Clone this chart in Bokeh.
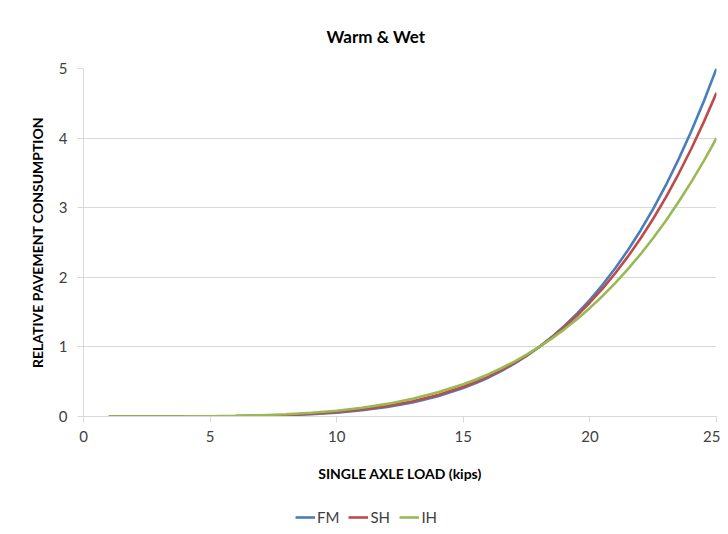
from bokeh.plotting import figure
from bokeh.layouts import column
from bokeh.models import Legend, LegendItem, Range1d, FixedTicker, Title
from bokeh.embed import file_html
from bokeh.resources import INLINE

load = [1, 2, 3, 4, 5, 6, 7, 8, 9, 10, 11, 12, 13, 14, 15, 15.5, 16, 16.5, 17, 17.5, 18, 18.5,
        19, 19.5, 20, 20.5, 21, 21.5, 22, 22.5, 23, 23.5, 24, 24.5, 25]
fm = [0.0, 0.00002, 0.00015, 0.0006, 0.0019, 0.0046, 0.0098, 0.019, 0.034, 0.056, 0.090, 0.137,
      0.203, 0.292, 0.410, 0.481, 0.561, 0.653, 0.756, 0.871, 1.0, 1.144, 1.304, 1.480, 1.676,
      1.892, 2.129, 2.389, 2.673, 2.984, 3.323, 3.694, 4.095, 4.530, 5.0]
sh = [0.0, 0.00003, 0.00023, 0.0009, 0.0025, 0.0058, 0.012, 0.0225, 0.039, 0.064, 0.100, 0.150,
      0.218, 0.309, 0.427, 0.497, 0.576, 0.666, 0.765, 0.876, 1.0, 1.137, 1.288, 1.454, 1.638,
      1.838, 2.058, 2.297, 2.558, 2.841, 3.149, 3.484, 3.843, 4.233, 4.65]
ih = [0.0, 0.0001, 0.0005, 0.0018, 0.0045, 0.0097, 0.0186, 0.0327, 0.0537, 0.0837, 0.125, 0.181,
      0.254, 0.347, 0.464, 0.532, 0.608, 0.693, 0.786, 0.888, 1.0, 1.123, 1.256, 1.402, 1.560,
      1.732, 1.917, 2.117, 2.332, 2.564, 2.813, 3.082, 3.367, 3.673, 4.0]
series = [("FM", fm, "#4a7ebb"), ("SH", sh, "#be4b48"), ("IH", ih, "#98b954")]
x_ticks = [0, 5, 10, 15, 20, 25]
y_ticks = [0, 1, 2, 3, 4, 5]

FONT = "Lato"

p = figure(width=720, height=504, output_backend="svg", toolbar_location=None,
           x_range=Range1d(0, 25), y_range=Range1d(0, 5),
           min_border_left=83, min_border_right=4, min_border_top=68, min_border_bottom=88)
p.title = None
p.add_layout(Title(text="Warm & Wet", align="left", offset=243, text_font=FONT,
                   text_font_size="17px", text_font_style="bold", text_color="#000000",
                   standoff=44), "above")

for name, ys, col in series:
    p.line(load, ys, line_color=col, line_width=2.6)

p.outline_line_color = None
p.background_fill_color = "white"
p.border_fill_color = "white"

p.xgrid.grid_line_color = None
p.ygrid.grid_line_color = "#d9d9d9"
p.ygrid.grid_line_width = 1

p.xaxis.ticker = FixedTicker(ticks=x_ticks)
p.yaxis.ticker = FixedTicker(ticks=y_ticks)
for ax in (p.xaxis, p.yaxis):
    ax.axis_line_color = "#d9d9d9"
    ax.major_tick_line_color = "#d9d9d9"
    ax.major_tick_in = 0
    ax.major_tick_out = 6
    ax.minor_tick_line_color = None
    ax.major_label_text_font = FONT
    ax.major_label_text_font_size = "15px"
    ax.major_label_text_color = "#404040"
    ax.axis_label_text_font = FONT
    ax.axis_label_text_font_size = "14px"
    ax.axis_label_text_font_style = "bold"
    ax.axis_label_text_color = "#000000"

p.xaxis.axis_label = "SINGLE AXLE LOAD (kips)"
p.yaxis.axis_label = "RELATIVE PAVEMENT CONSUMPTION"
p.xaxis.major_label_standoff = 8
p.xaxis.axis_label_standoff = 20
p.yaxis.major_label_standoff = 10
p.yaxis.axis_label_standoff = 10

# legend strip below the chart (series drawn out of view, only the legend shows)
lg = figure(width=720, height=26, output_backend="svg", toolbar_location=None,
            x_range=Range1d(-10, -9), y_range=Range1d(-10, -9),
            min_border_left=0, min_border_right=0, min_border_top=0, min_border_bottom=0)
lg.axis.visible = False
lg.grid.visible = False
lg.outline_line_color = None
lg.border_fill_color = "white"
items = []
for name, ys, col in series:
    r = lg.line(load, ys, line_color=col, line_width=2.6)
    items.append(LegendItem(label=name, renderers=[r]))
legend = Legend(items=items, orientation="horizontal", location=(212, 3),
                label_text_font=FONT, label_text_font_size="15px", label_text_color="#404040",
                glyph_width=20, glyph_height=20, label_standoff=2, spacing=9, padding=2, margin=0,
                border_line_color=None, background_fill_alpha=0)
lg.add_layout(legend, "center")

open("out.html", "w").write(file_html(column(p, lg, spacing=0), INLINE))
